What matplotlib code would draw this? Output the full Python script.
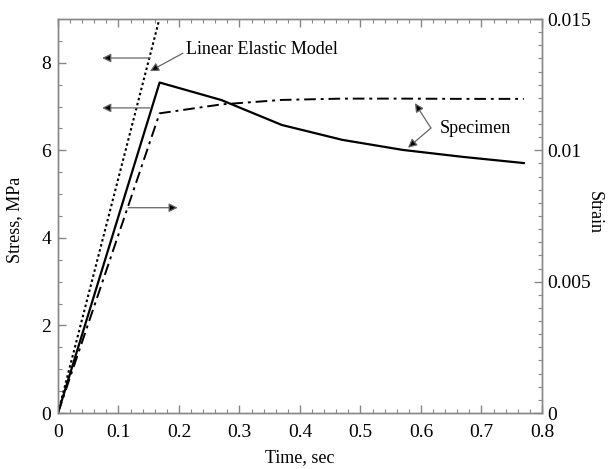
import numpy as np
import matplotlib
matplotlib.use("Agg")
import matplotlib.pyplot as plt
from matplotlib.ticker import MultipleLocator, FuncFormatter

plt.rcParams['font.family'] = ['Liberation Serif', 'DejaVu Serif']
plt.rcParams['font.size'] = 13

# linear elastic model (stress, left axis)
model_t = [0.0, 0.1700]
model_s = [0.0, 9.13]

# specimen stress (left axis)
spec_t = [0.0, 0.168, 0.27, 0.37, 0.47, 0.57, 0.67, 0.77]
spec_s = [0.0, 7.55, 7.15, 6.58, 6.24, 6.01, 5.85, 5.71]

# specimen strain (right axis)
strain_t = [0.0, 0.168, 0.27, 0.37, 0.47, 0.57, 0.67, 0.77]
strain_e = [0.0, 0.01141, 0.01175, 0.01192, 0.01197, 0.01197, 0.01196, 0.01196]

GREY = '#888888'

fig = plt.figure(figsize=(6.09, 4.69), dpi=100)
ax1 = fig.add_axes([0.0952, 0.1194, 0.7947, 0.840])
ax2 = ax1.twinx()

ax1.plot(model_t, model_s, color='black', lw=1.5, ls=(0, (1.2, 1.3)))
ax1.plot(spec_t, spec_s, color='black', lw=1.6)
ax2.plot(strain_t, strain_e, color='black', lw=1.4, ls=(0, (6, 2.5, 1.5, 2.5)))

ax1.set_xlim(0, 0.8)
ax1.set_ylim(0, 9)
ax2.set_ylim(0, 0.015)

ax1.xaxis.set_major_locator(MultipleLocator(0.1))
ax1.xaxis.set_minor_locator(MultipleLocator(0.02))
ax1.yaxis.set_major_locator(MultipleLocator(2))
ax1.yaxis.set_minor_locator(MultipleLocator(0.5))
ax2.yaxis.set_major_locator(MultipleLocator(0.005))
ax2.yaxis.set_minor_locator(MultipleLocator(0.0005))

ax1.xaxis.set_major_formatter(FuncFormatter(lambda v, p: '0' if abs(v) < 1e-9 else '%g' % v))
ax2.yaxis.set_major_formatter(FuncFormatter(lambda v, p: '0' if abs(v) < 1e-12 else '%g' % round(v, 4)))

for ax in (ax1, ax2):
    for sp in ax.spines.values():
        sp.set_color(GREY)
        sp.set_linewidth(1.0)

ax1.tick_params(which='both', direction='in', top=True, right=False, color=GREY)
ax1.tick_params(which='major', length=6, width=1, labelsize=14)
ax1.tick_params(which='minor', length=3, width=0.8)
ax1.tick_params(axis='x', which='major', pad=8)
ax1.tick_params(axis='y', which='major', pad=5)
ax2.tick_params(which='both', direction='in', color=GREY)
ax2.tick_params(which='major', length=6, width=1, labelsize=14, pad=4)
ax2.tick_params(which='minor', length=3, width=0.8)

ax1.set_xlabel('Time, sec')
ax1.xaxis.set_label_coords(0.5, -0.092)
ax1.set_ylabel('Stress, MPa')
ax1.yaxis.set_label_coords(-0.072, 0.49)
ax2.set_ylabel('Strain', rotation=270)
ax2.yaxis.set_label_coords(1.126, 0.51)

arrow_kw = dict(arrowstyle='-|>', facecolor='black', edgecolor='#666666',
                lw=0.9, mutation_scale=13, shrinkA=0, shrinkB=0)

# axis direction arrows
ax1.annotate('', xy=(0.073, 8.11), xytext=(0.152, 8.11), arrowprops=arrow_kw)
ax1.annotate('', xy=(0.073, 6.97), xytext=(0.152, 6.97), arrowprops=arrow_kw)
ax1.annotate('', xy=(0.198, 4.69), xytext=(0.116, 4.69), arrowprops=arrow_kw)

# labels with pointers
ax1.text(0.2116, 8.31, 'Linear Elastic Model', ha='left', va='center')
ax1.annotate('', xy=(0.152, 7.81), xytext=(0.2066, 8.22), arrowprops=arrow_kw)

ax1.text(0.631, 6.51, 'Specimen', ha='left', va='center')
ax1.annotate('', xy=(0.590, 7.08), xytext=(0.6165, 6.51), arrowprops=arrow_kw)
ax1.annotate('', xy=(0.5785, 6.06), xytext=(0.6165, 6.51), arrowprops=arrow_kw)

fig.savefig('out.png', dpi=100)
